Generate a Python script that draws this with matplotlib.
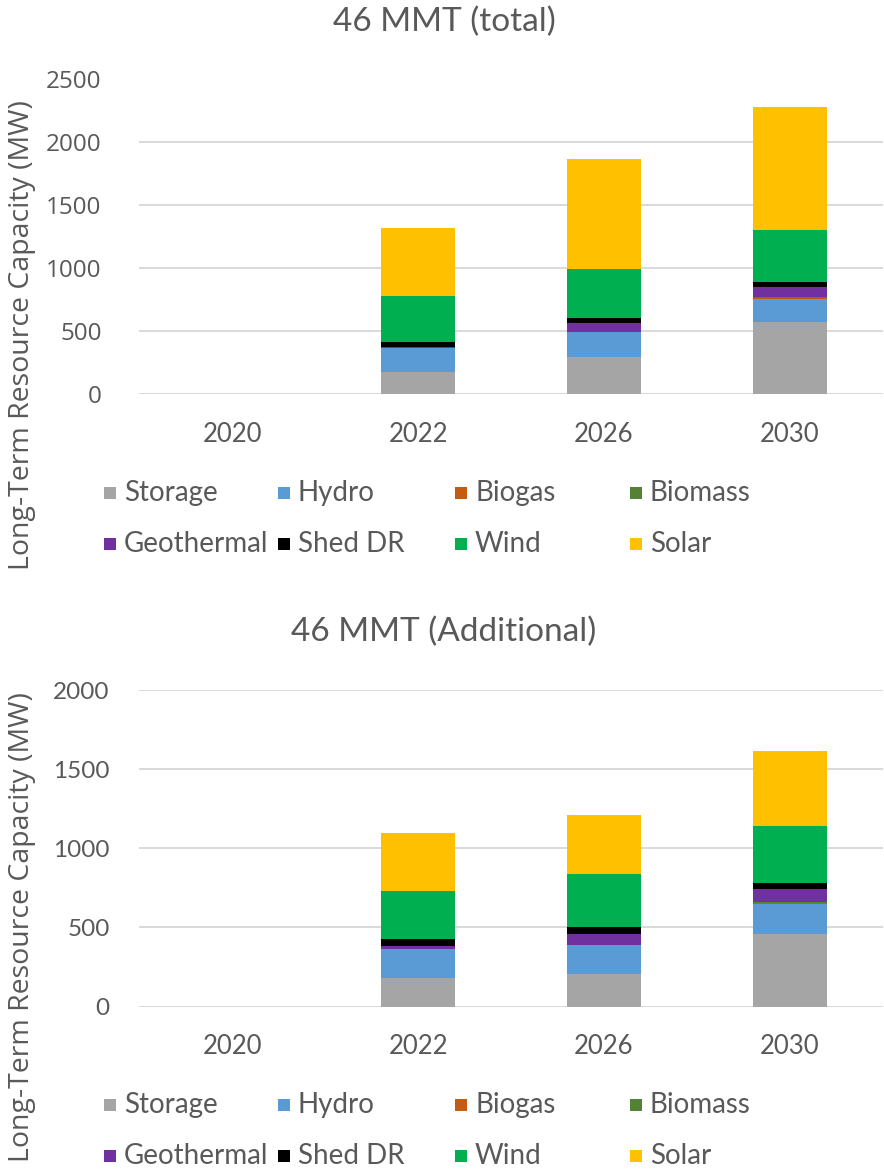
import matplotlib
matplotlib.use("Agg")
import matplotlib.pyplot as plt
from matplotlib.patches import Rectangle

# ---- data -------------------------------------------------------------
years = ["2020", "2022", "2026", "2030"]
resources = ["Storage", "Hydro", "Biogas", "Biomass",
             "Geothermal", "Shed DR", "Wind", "Solar"]
colors = ["#A5A5A5", "#5B9BD5", "#C55A11", "#548235",
          "#7030A0", "#000000", "#00B050", "#FFC000"]

# 46 MMT (total), MW
total_storage    = [0, 172, 294, 572]
total_hydro      = [0, 191, 196, 183]
total_biogas     = [0, 0, 0, 8]
total_biomass    = [0, 0, 0, 8]
total_geothermal = [0, 8, 72, 77]
total_shed_dr    = [0, 40, 42, 40]
total_wind       = [0, 368, 389, 415]
total_solar      = [0, 538, 872, 977]

# 46 MMT (Additional), MW
add_storage    = [0, 178, 204, 460]
add_hydro      = [0, 185, 185, 186]
add_biogas     = [0, 0, 0, 8]
add_biomass    = [0, 0, 0, 8]
add_geothermal = [0, 19, 71, 79]
add_shed_dr    = [0, 43, 42, 41]
add_wind       = [0, 305, 335, 359]
add_solar      = [0, 367, 373, 476]

total_series = [total_storage, total_hydro, total_biogas, total_biomass,
                total_geothermal, total_shed_dr, total_wind, total_solar]
add_series = [add_storage, add_hydro, add_biogas, add_biomass,
              add_geothermal, add_shed_dr, add_wind, add_solar]

# ---- figure -----------------------------------------------------------
W, H = 884, 1171
fig = plt.figure(figsize=(W / 100, H / 100), dpi=100)

NARROW = ["Lato", "DejaVu Sans"]
WIDE = ["Open Sans", "DejaVu Sans"]
TXT = "#595959"
GRID = "#D9D9D9"


def px_axes(left, top, right, bottom):
    return fig.add_axes([left / W, 1 - bottom / H, (right - left) / W,
                         (bottom - top) / H])


def draw_panel(ax, series, title, ymax, ystep, title_y, ylab_y,
               ytick_font, ytick_size, ytick_pad, legend_y):
    x = range(len(years))
    bottom = [0] * len(years)
    for vals, c in zip(series, colors):
        ax.bar(x, vals, width=0.4, bottom=bottom, color=c, zorder=3,
               linewidth=0)
        bottom = [b + v for b, v in zip(bottom, vals)]
    ax.set_xlim(-0.5, len(years) - 0.5)
    ax.set_ylim(0, ymax)
    ax.set_yticks(range(0, ymax + 1, ystep))
    ax.set_xticks(list(x))
    ax.set_xticklabels(years, family=NARROW, fontsize=18.5, color=TXT)
    for lab in ax.get_yticklabels():
        lab.set_family(ytick_font)
        lab.set_fontsize(ytick_size)
        lab.set_color(TXT)
    ax.tick_params(axis="y", length=0, pad=ytick_pad)
    ax.tick_params(axis="x", length=0, pad=20)
    ax.grid(axis="y", color=GRID, linewidth=1.4, zorder=0)
    for s in ax.spines.values():
        s.set_visible(False)

    fig.text(444 / W, 1 - title_y / H, title, ha="center", va="center",
             family=NARROW, fontsize=24, color=TXT)
    fig.text(22 / W, 1 - ylab_y / H, "Long-Term Resource Capacity (MW)",
             rotation=90, ha="center", va="center", family=WIDE,
             fontsize=20.5, color=TXT)

    # legend: four fixed-width columns, two rows
    col_x = [104, 278, 455, 630]
    row_y = [legend_y, legend_y + 51]
    for i, (name, c) in enumerate(zip(resources, colors)):
        cx = col_x[i % 4]
        cy = row_y[i // 4]
        fig.add_artist(Rectangle((cx / W, 1 - (cy + 6) / H), 12 / W,
                                 12 / H, transform=fig.transFigure,
                                 facecolor=c, edgecolor="none"))
        fig.text((cx + 20) / W, 1 - cy / H, name, ha="left", va="center",
                 family=NARROW, fontsize=20, color=TXT)


ax_top = px_axes(139, 394 - 5 * 62.9, 883, 394)
draw_panel(ax_top, total_series, "46 MMT (total)", 2500, 500,
           title_y=22, ylab_y=335, ytick_font=WIDE, ytick_size=17.5,
           ytick_pad=27, legend_y=493)

ax_bot = px_axes(139, 1006.5 - 2 * 158.2, 883, 1006.5)
draw_panel(ax_bot, add_series, "46 MMT (Additional)", 2000, 500,
           title_y=632, ylab_y=927, ytick_font=NARROW, ytick_size=17.5,
           ytick_pad=21, legend_y=1105)

fig.savefig("out.png", dpi=100)
